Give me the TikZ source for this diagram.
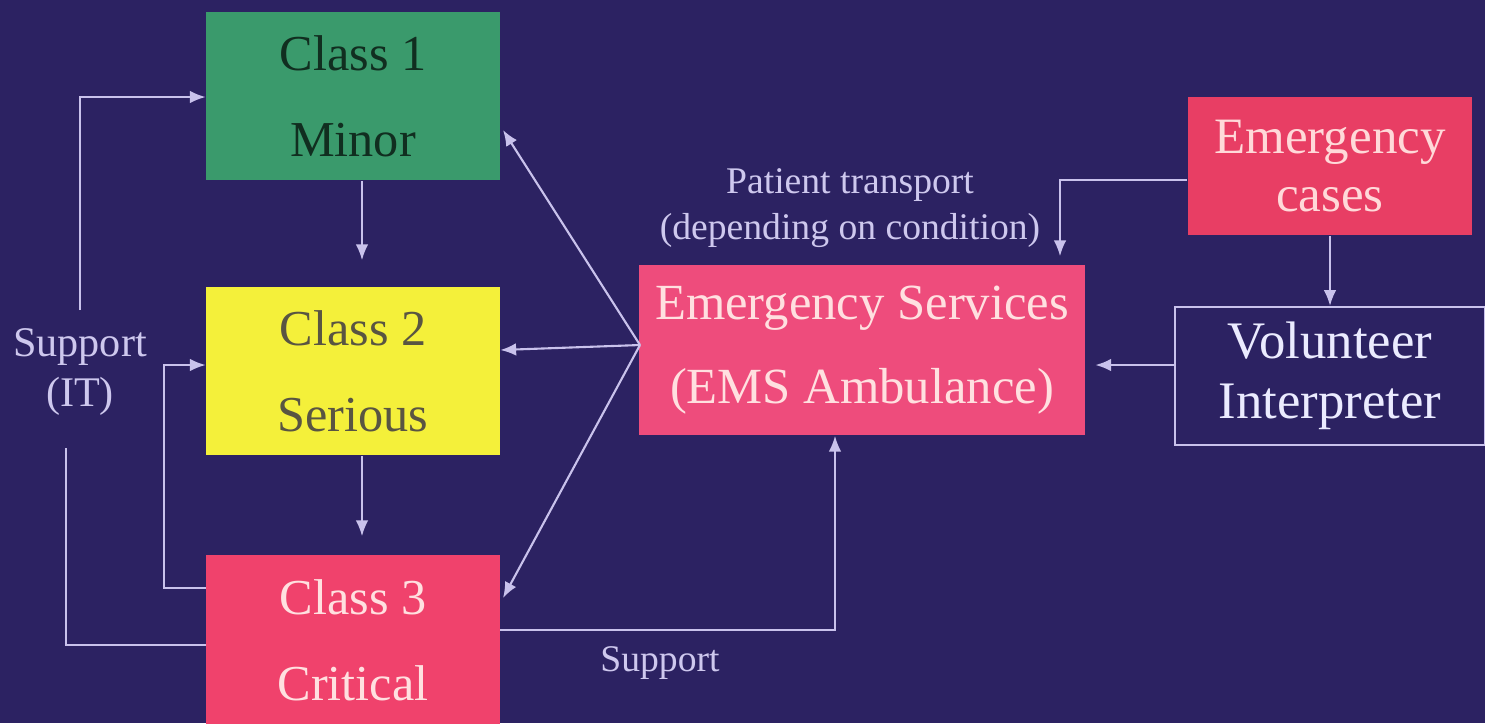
\documentclass[tikz,border=0pt]{standalone}
\usepackage{fontspec}
\setmainfont{Liberation Serif}
\usetikzlibrary{shapes,arrows.meta}
\definecolor{bgblue}{HTML}{2C2262}
\definecolor{wirecol}{HTML}{C9C2EC}
\definecolor{minorgreen}{HTML}{3A9A6C}
\definecolor{seriousyellow}{HTML}{F4F03A}
\definecolor{criticalred}{HTML}{F0426C}
\definecolor{emspink}{HTML}{EE4C7C}
\definecolor{casesred}{HTML}{E83E64}
\tikzstyle{block} = [rectangle, minimum width=2.93cm, minimum height=1.68cm, align=center, inner sep=0pt, font=\fontsize{14.3}{24.5}\selectfont]
\tikzstyle{smallblock} = [rectangle, minimum width=2.84cm, minimum height=1.38cm, align=center, inner sep=0pt, font=\fontsize{14.5}{16.5}\selectfont]
\tikzstyle{lbl} = [text=wirecol!90!white, align=center, font=\fontsize{10.7}{13}\selectfont]
\tikzstyle{wire} = [draw=wirecol, line width=0.6pt]

\begin{document}
\begin{tikzpicture}[x=0.01cm, y=-0.01cm, >={Latex[length=4.5pt,width=3.6pt]}]
    \useasboundingbox (0,0) rectangle (1485,723);
    \fill [bgblue] (0,0) rectangle (1485,723);
 % nodes
    \node [block, fill=minorgreen, text=minorgreen!30!black] (minor) at (353,96) {Class 1\\Minor};
    \node [block, fill=seriousyellow, text=black!75!yellow] (serious) at (353,371) {Class 2\\Serious};
    \node [block, fill=criticalred, minimum height=1.7cm, text=white!88!red] (critical) at (353,640) {Class 3\\Critical};
    \node [block, fill=emspink, minimum width=4.45cm, minimum height=1.7cm, text=white!88!red, font=\fontsize{14.4}{24}\selectfont] (ems) at (862,350) {Emergency Services\\(EMS Ambulance)};
    \node [smallblock, fill=casesred, text=white!85!red] (cases) at (1330,166) {Emergency\\cases};
    \node [smallblock, draw=wirecol, line width=0.6pt, minimum width=3.1cm, text=white!92!blue, font=\fontsize{15}{17}\selectfont] (volunteer) at (1330,376) {Volunteer\\Interpreter};
    \node [lbl, font=\fontsize{12}{14}\selectfont] (supportit) at (80,372) {Support\\(IT)};
    \node [lbl] (transport) at (850,208) {Patient transport\\(depending on condition)};
    \node [lbl] (support) at (660,663) {Support};
    \coordinate (itup) at (80,310);
    \coordinate (itdown) at (66,448);
    \coordinate (emsjoin) at (640,345);
    % edges
    \draw [wire, ->] (itup) |- (minor.west |- 0,97);
    \draw [wire] (itdown) |- (critical.west |- 0,645);
    \draw [wire, ->] (critical.west |- 0,588) -| (164,365) -- (serious.west |- 0,365);
    \draw [wire, ->, shorten >=0.26cm] (minor.south -| 362,0) -- (serious.north -| 362,0);
    \draw [wire, ->, shorten >=0.18cm] (serious.south -| 362,0) -- (critical.north -| 362,0);
    \draw [wire, ->] (emsjoin) -- (503,130);
    \draw [wire, ->] (emsjoin) -- (serious.east |- 0,350);
    \draw [wire, ->] (emsjoin) -- (503,598);
    \draw [wire, ->] (critical.east |- 0,630) -| (ems.south -| 835,0);
    \draw [wire, ->, shorten >=0.08cm] (cases.west |- 0,180) -| (ems.north -| 1060,0);
    \draw [wire, ->] (cases.south) -- (volunteer.north);
    \draw [wire, ->, shorten >=0.1cm] (volunteer.west |- 0,365) -- (ems.east |- 0,365);
\end{tikzpicture}
\end{document}
